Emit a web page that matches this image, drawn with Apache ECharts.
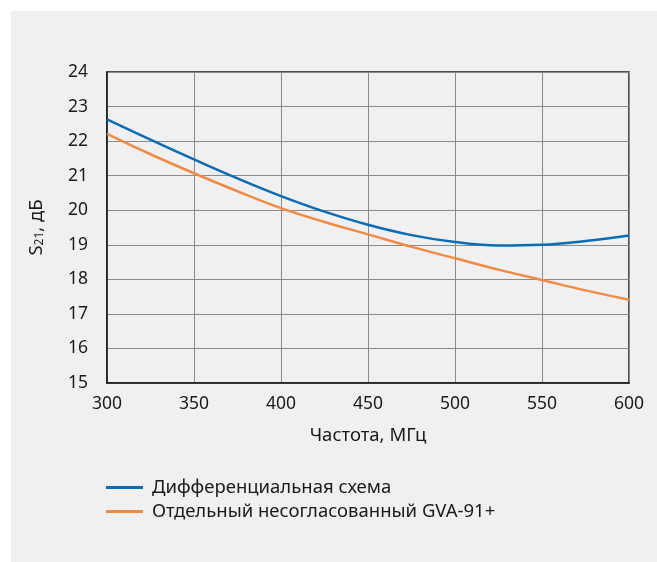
<!DOCTYPE html>
<html>
<head>
<meta charset="utf-8">
<script src="https://cdn.jsdelivr.net/npm/echarts@6/dist/echarts.min.js"></script>
<style>
html,body{margin:0;padding:0;background:#fff;}
#wrap{position:relative;width:657px;height:562px;background:#fff;overflow:hidden;}
#bg{position:absolute;left:11px;top:11px;right:0;bottom:0;background:#f0f0f0;}
#chart{position:absolute;left:0;top:0;width:657px;height:562px;}
</style>
</head>
<body>
<div id="wrap"><div id="bg"></div><div id="chart"></div></div>
<script>
var freq = [300, 325, 350, 375, 400, 425, 450, 475, 500, 525, 550, 575, 600];
var diffScheme = [22.63, 22.04, 21.47, 20.92, 20.41, 19.96, 19.58, 19.28, 19.08, 18.98, 19.00, 19.11, 19.27];
var singleGVA = [22.21, 21.62, 21.07, 20.55, 20.06, 19.66, 19.30, 18.94, 18.61, 18.28, 17.98, 17.68, 17.41];
var seriesNames = ['Дифференциальная схема', 'Отдельный несогласованный GVA-91+'];
var xTicks = [300, 350, 400, 450, 500, 550, 600];
var yTicks = [15, 16, 17, 18, 19, 20, 21, 22, 23, 24];

function pairs(xs, ys){ return xs.map(function(x,i){ return [x, ys[i]]; }); }

var FONT = '"Noto Sans", "Open Sans", sans-serif';
var chart = echarts.init(document.getElementById('chart'), null, {renderer:'canvas'});
chart.setOption({
  backgroundColor: 'transparent',
  animation: false,
  textStyle: {fontFamily: FONT},
  grid: {left: 107, top: 72, width: 522, height: 311, show: true, borderColor: '#1a1a1a', borderWidth: 1.5, backgroundColor: 'transparent'},
  legend: {
    orient: 'vertical', left: 101, top: 473, itemWidth: 37, itemHeight: 3, itemGap: 5,
    icon: 'rect',
    textStyle: {fontFamily: FONT, fontSize: 18.5, color: '#1a1a1a', padding: [0,0,0,4]},
    data: seriesNames
  },
  xAxis: {
    type: 'value', min: xTicks[0], max: xTicks[xTicks.length-1], interval: 50,
    name: 'Частота, МГц', nameLocation: 'middle', nameGap: 43,
    nameTextStyle: {fontFamily: FONT, fontSize: 18.5, color: '#1a1a1a'},
    axisLine: {show: true, lineStyle: {color: '#1a1a1a', width: 1.5}},
    axisTick: {show: false},
    axisLabel: {fontFamily: FONT, fontSize: 17.5, color: '#1a1a1a', margin: 12},
    splitLine: {show: true, lineStyle: {color: '#8a8a8a', width: 1}}
  },
  yAxis: {
    type: 'value', min: yTicks[0], max: yTicks[yTicks.length-1], interval: 1,
    name: '{m|S}{s|21}{m|, дБ}', nameLocation: 'middle', nameGap: 61, nameRotate: 90,
    nameTextStyle: {rich: {
      m: {fontFamily: FONT, fontSize: 18.5, color: '#1a1a1a'},
      s: {fontFamily: FONT, fontSize: 12, color: '#1a1a1a', padding: [7,0,0,0]}
    }},
    axisLine: {show: true, lineStyle: {color: '#1a1a1a', width: 1.5}},
    axisTick: {show: false},
    axisLabel: {fontFamily: FONT, fontSize: 17.5, color: '#1a1a1a', margin: 19},
    splitLine: {show: true, lineStyle: {color: '#8a8a8a', width: 1}}
  },
  series: [
    {name: seriesNames[0], type: 'line', smooth: 0.4, symbol: 'none', data: pairs(freq, diffScheme),
     lineStyle: {color: '#0a6cb4', width: 2.5}, itemStyle: {color: '#0a6cb4'}},
    {name: seriesNames[1], type: 'line', smooth: 0.4, symbol: 'none', data: pairs(freq, singleGVA),
     lineStyle: {color: '#ef8b44', width: 2.5}, itemStyle: {color: '#ef8b44'}}
  ]
});
</script>
</body>
</html>
